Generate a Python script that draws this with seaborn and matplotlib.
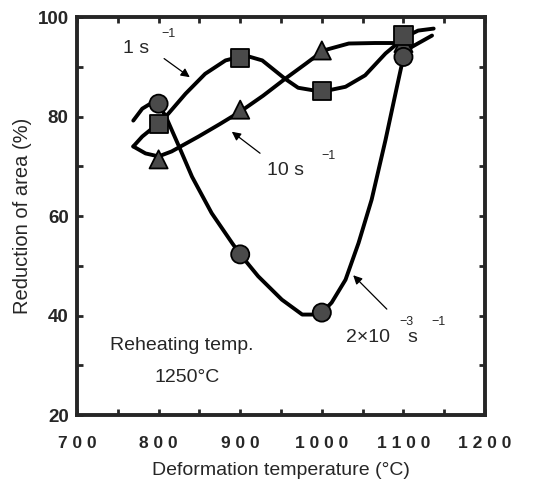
import matplotlib
matplotlib.use("Agg")
import matplotlib.pyplot as plt
import seaborn as sns
import pandas as pd
from matplotlib.ticker import MultipleLocator

# measured data points
temps = [800, 900, 1000, 1100]
ra_1s = [78.6, 91.7, 85.2, 96.3]        # squares, 1 s^-1
ra_10s = [71.4, 81.4, 93.3, 94.8]       # triangles, 10 s^-1
ra_2e3 = [82.6, 52.3, 40.6, 92.0]       # circles, 2x10^-3 s^-1

# hand-drawn guide curves
curve_1s_x = [769, 780, 792, 800, 812, 833, 857, 882, 906, 927, 955, 971, 1000, 1029, 1053, 1078, 1102, 1118, 1137]
curve_1s_y = [74.0, 76.0, 77.6, 78.6, 80.6, 84.6, 88.6, 91.3, 92.3, 91.3, 87.6, 85.8, 85.0, 86.0, 88.3, 92.7, 96.0, 97.3, 97.7]
curve_10s_x = [769, 784, 800, 816, 849, 875, 900, 928, 955, 980, 1002, 1033, 1065, 1102]
curve_10s_y = [74.0, 72.6, 72.0, 73.0, 76.0, 78.5, 81.0, 84.2, 87.6, 90.6, 93.3, 94.7, 94.8, 94.8]
curve_2e3_x = [769, 780, 792, 800, 810, 825, 841, 865, 890, 900, 922, 951, 976, 998, 1012, 1029, 1045, 1061, 1078, 1092, 1100, 1110, 1135]
curve_2e3_y = [79.2, 81.6, 82.8, 82.6, 79.6, 74.0, 67.9, 60.6, 54.6, 52.3, 47.9, 43.2, 40.2, 40.2, 42.6, 47.2, 54.6, 63.3, 75.3, 86.0, 92.0, 94.0, 96.3]

xtick_vals = [700, 800, 900, 1000, 1100, 1200]
xtick_labels = ["7 0 0", "8 0 0", "9 0 0", "1 0 0 0", "1 1 0 0", "1 2 0 0"]
ytick_vals = [20, 40, 60, 80, 100]

sns.set_style("ticks")
plt.rcParams['font.family'] = ['Liberation Sans', 'DejaVu Sans']

fig = plt.figure(figsize=(5.42, 4.90), dpi=100)
ax = fig.add_axes([0.142, 0.153, 0.753, 0.812])

curves = [(curve_1s_x, curve_1s_y), (curve_10s_x, curve_10s_y), (curve_2e3_x, curve_2e3_y)]
for cx, cy in curves:
    df = pd.DataFrame({"x": cx, "y": cy})
    sns.lineplot(data=df, x="x", y="y", sort=False, estimator=None, ax=ax,
                 color="black", lw=2.8, solid_capstyle="round", solid_joinstyle="round")

pts = pd.DataFrame({
    "T": temps * 3,
    "RA": ra_10s + ra_1s + ra_2e3,
    "rate": ["10"] * 4 + ["1"] * 4 + ["2e-3"] * 4,
})
sns.scatterplot(data=pts, x="T", y="RA", style="rate",
                markers={"10": "^", "1": "s", "2e-3": "o"},
                s=170, color="#4a4a4a", edgecolor="black", linewidth=1.3,
                legend=False, ax=ax, zorder=3)

ax.set_xlim(700, 1200)
ax.set_ylim(20, 100)
ax.set_xticks(xtick_vals)
ax.set_xticklabels(xtick_labels, fontsize=12.5, fontweight="bold")
ax.set_yticks(ytick_vals)
ax.set_yticklabels([str(v) for v in ytick_vals], fontsize=13.5, fontweight="bold")
ax.xaxis.set_minor_locator(MultipleLocator(50))
ax.yaxis.set_minor_locator(MultipleLocator(10))
ax.tick_params(which="both", direction="in", top=True, right=True, width=2, length=4)
ax.tick_params(axis="x", which="major", pad=15)
ax.tick_params(axis="y", which="major", pad=6)
for sp in ax.spines.values():
    sp.set_linewidth(2.8)

ax.set_xlabel("Deformation temperature (°C)", fontsize=14, labelpad=8)
ax.set_ylabel("Reduction of area (%)", fontsize=14.5, labelpad=4)

# annotations
ax.text(757, 93.6, "1 s", fontsize=14, ha="left", va="center")
ax.text(803, 96.6, "\u22121", fontsize=9, ha="left", va="center")
ax.annotate("", xy=(841, 87.6), xytext=(804, 92),
            arrowprops=dict(arrowstyle="-|>", color="black", lw=0.9, mutation_scale=13))

ax.text(933, 69.2, "10 s", fontsize=14, ha="left", va="center")
ax.text(999, 72.0, "\u22121", fontsize=9, ha="left", va="center")
ax.annotate("", xy=(887, 77.3), xytext=(927, 72.3),
            arrowprops=dict(arrowstyle="-|>", color="black", lw=0.9, mutation_scale=13))

ax.text(1030, 35.5, "2×10", fontsize=14, ha="left", va="center")
ax.text(1105, 35.5, "s", fontsize=14, ha="left", va="center")
ax.text(1095, 38.8, "\u22123", fontsize=9, ha="left", va="center")
ax.text(1134, 38.8, "\u22121", fontsize=9, ha="left", va="center")
ax.annotate("", xy=(1036, 48.5), xytext=(1082, 40.9),
            arrowprops=dict(arrowstyle="-|>", color="black", lw=0.9, mutation_scale=13))

ax.text(740, 33.9, "Reheating temp.", fontsize=14, ha="left", va="center")
ax.text(795, 27.5, "1250°C", fontsize=14, ha="left", va="center")

fig.savefig("out.png", dpi=100)
